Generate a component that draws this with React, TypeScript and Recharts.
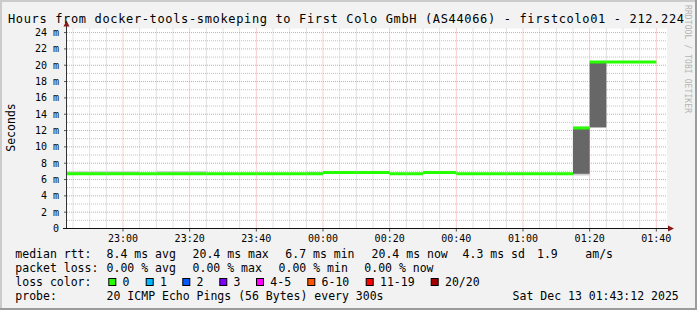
import React from 'react';
import { ComposedChart, Line, Area, XAxis, YAxis, CartesianGrid } from 'recharts';

// x values: minutes since 22:00 (start of each 5-minute step; last entry is the end)
const times = [43.2, 45, 50, 55, 60, 65, 70, 75, 80, 85, 90, 95, 100, 105, 110, 115, 120, 125, 130, 135, 140, 145, 150, 155, 160, 165, 170, 175, 180, 185, 190, 195, 200, 205, 210, 215, 220];
// median rtt (ms)
const median = [6.7, 6.7, 6.7, 6.7, 6.7, 6.7, 6.7, 6.7, 6.7, 6.7, 6.7, 6.7, 6.7, 6.7, 6.7, 6.7, 6.85, 6.85, 6.85, 6.85, 6.7, 6.7, 6.85, 6.85, 6.7, 6.7, 6.7, 6.7, 6.7, 6.7, 6.7, 12.3, 20.4, 20.4, 20.4, 20.4, 20.4];
// outer (light) smoke range
const outerLow = [6.6, 6.6, 6.6, 6.6, 6.6, 6.6, 6.6, 6.6, 6.6, 6.6, 6.6, 6.6, 6.6, 6.6, 6.6, 6.6, 6.7, 6.7, 6.7, 6.7, 6.6, 6.6, 6.7, 6.7, 6.6, 6.6, 6.6, 6.6, 6.6, 6.6, 6.6, 6.5, 12.3, 20.3, 20.3, 20.3, 20.3];
const outerHigh = [7.0, 7.0, 7.0, 7.0, 7.0, 6.8, 7.05, 7.05, 7.05, 6.8, 6.8, 6.8, 6.8, 6.8, 6.8, 6.95, 6.95, 6.95, 6.95, 6.95, 6.8, 6.8, 6.95, 6.95, 6.8, 6.8, 6.8, 6.8, 6.8, 6.8, 6.8, 12.5, 20.5, 20.45, 20.45, 20.45, 20.45];
// inner (dark) smoke range
const innerLow = [6.7, 6.7, 6.7, 6.7, 6.7, 6.7, 6.7, 6.7, 6.7, 6.7, 6.7, 6.7, 6.7, 6.7, 6.7, 6.7, 6.85, 6.85, 6.85, 6.85, 6.7, 6.7, 6.85, 6.85, 6.7, 6.7, 6.7, 6.7, 6.7, 6.7, 6.7, 6.7, 12.4, 20.4, 20.4, 20.4, 20.4];
const innerHigh = [6.7, 6.7, 6.7, 6.7, 6.7, 6.7, 6.7, 6.7, 6.7, 6.7, 6.7, 6.7, 6.7, 6.7, 6.7, 6.7, 6.85, 6.85, 6.85, 6.85, 6.7, 6.7, 6.85, 6.85, 6.7, 6.7, 6.7, 6.7, 6.7, 6.7, 6.7, 12.3, 20.3, 20.4, 20.4, 20.4, 20.4];

const xDomain = [43.2, 223.2];
const xTickValues = [60, 80, 100, 120, 140, 160, 180, 200, 220];
const xTickLabels = ['23:00', '23:20', '23:40', '00:00', '00:20', '00:40', '01:00', '01:20', '01:40'];
const xMinorGrid = [45, 50, 55, 65, 70, 75, 85, 90, 95, 105, 110, 115, 125, 130, 135, 145, 150, 155, 165, 170, 175, 185, 190, 195, 205, 210, 215];
const yDomain = [0, 24.5];
const yTickValues = [0, 2, 4, 6, 8, 10, 12, 14, 16, 18, 20, 22, 24];
const yTickLabels = ['0', '2 m', '4 m', '6 m', '8 m', '10 m', '12 m', '14 m', '16 m', '18 m', '20 m', '22 m', '24 m'];
const yMinorGrid = [1, 3, 5, 7, 9, 11, 13, 15, 17, 19, 21, 23];
const yMajorGrid = [2, 4, 6, 8, 10, 12, 14, 16, 18, 20, 22, 24];

const title = 'Hours from docker-tools-smokeping to First Colo GmbH (AS44066) - firstcolo01 - 212.224';
const rttRow = [['median rtt:', 16], ['8.4 ms avg', 107.3], ['20.4 ms max', 193.3], ['6.7 ms min', 286], ['20.4 ms now', 372.3], ['4.3 ms sd', 463.3], ['1.9', 537.7], ['am/s', 586]];
const lossRow = [['packet loss:', 16], ['0.00 % avg', 107.3], ['0.00 % max', 193.3], ['0.00 % min', 279.3], ['0.00 % now', 365]];
const lossLabels = ['0', '1', '2', '3', '4-5', '6-10', '11-19', '20/20'];
const lossColors = ['#26ff00', '#00b8ff', '#0059ff', '#7e00ff', '#ff00ff', '#ff5500', '#ff0000', '#a10000'];
const lossBoxX = [108.3, 145.7, 182.3, 219.3, 256, 307.3, 365.7, 430.7];
const probeRow = [['probe:', 16], ['20 ICMP Echo Pings (56 Bytes) every 300s', 107.3], ['Sat Dec 13 01:43:12 2025', 513.3]];

const MONO = '"DejaVu Sans Mono", monospace';
const W = 697;
const H = 310;

export default function App() {
  const table = times.map((t, i) => ({
    t,
    outer: [outerLow[i], outerHigh[i]],
    inner: [innerLow[i], innerHigh[i]],
  }));
  const segments = median.slice(0, -1).map((m, i) => [
    { t: times[i], v: m },
    { t: times[i + 1], v: m },
  ]);
  const xFmt = (v: number) => {
    const i = xTickValues.indexOf(v);
    return i >= 0 ? xTickLabels[i] : '';
  };
  const yFmt = (v: number) => {
    const i = yTickValues.indexOf(v);
    return i >= 0 ? yTickLabels[i] : '';
  };
  const legendFont = { fontFamily: MONO, fontSize: 11.5, fill: '#000' } as const;

  return (
    <div style={{ position: 'absolute', left: 0, top: 0, width: W, height: H, background: '#f2f2f2', overflow: 'hidden' }}>
      <div style={{ position: 'absolute', left: 0, top: 0 }}>
        <ComposedChart
          width={W}
          height={H}
          data={table}
          margin={{ top: 28.5, right: 30, bottom: 61.5, left: 0 }}
        >
          <CartesianGrid
            horizontalValues={yMinorGrid}
            verticalValues={xMinorGrid}
            stroke="#c4c4c4"
            strokeDasharray="1 1"
            fill="#ffffff"
            fillOpacity={1}
          />
          <CartesianGrid
            horizontalValues={yMajorGrid}
            verticalValues={xTickValues}
            stroke="#f29a9a"
            strokeDasharray="1 1"
          />
          <XAxis
            type="number"
            dataKey="t"
            domain={xDomain}
            allowDataOverflow
            ticks={xTickValues}
            tickFormatter={xFmt}
            axisLine={false}
            tickLine={{ stroke: '#555' }}
            tickSize={3}
            tickMargin={3}
            height={20}
            interval={0}
            tick={{ fill: '#000', fontSize: 10, fontFamily: MONO }}
          />
          <YAxis
            type="number"
            domain={yDomain}
            allowDataOverflow
            ticks={yTickValues}
            tickFormatter={yFmt}
            axisLine={false}
            tickLine={{ stroke: '#555' }}
            tickSize={3}
            tickMargin={5}
            width={67}
            interval={0}
            tick={{ fill: '#000', fontSize: 10, fontFamily: MONO }}
          />
          <Area
            type="stepAfter"
            dataKey="outer"
            stroke="none"
            fill="#cfcfcf"
            fillOpacity={1}
            isAnimationActive={false}
            dot={false}
            activeDot={false}
            legendType="none"
          />
          <Area
            type="stepAfter"
            dataKey="inner"
            stroke="none"
            fill="#676767"
            fillOpacity={1}
            isAnimationActive={false}
            dot={false}
            activeDot={false}
            legendType="none"
          />
          {segments.map((seg, i) => (
            <Line
              key={i}
              data={seg}
              dataKey="v"
              type="linear"
              stroke="#26ff00"
              strokeWidth={3}
              strokeLinecap="butt"
              dot={false}
              activeDot={false}
              isAnimationActive={false}
              legendType="none"
            />
          ))}
        </ComposedChart>
      </div>
      <svg
        width={W}
        height={H}
        style={{ position: 'absolute', left: 0, top: 0, pointerEvents: 'none' }}
      >
        {/* frame */}
        <rect x={0} y={0} width={W} height={2} fill="#cbcbcb" />
        <rect x={0} y={0} width={2} height={H} fill="#cbcbcb" />
        <rect x={W - 2} y={0} width={2} height={H} fill="#9c9c9c" />
        <rect x={0} y={H - 2} width={W} height={2} fill="#9c9c9c" />
        {/* axes */}
        <line x1={66.5} y1={228.5} x2={66.5} y2={24} stroke="#333" strokeWidth={1} />
        <polygon points="63.5,26.5 69.5,26.5 66.5,20.5" fill="#8b1a1a" />
        <line x1={63} y1={228.5} x2={669} y2={228.5} stroke="#111" strokeWidth={1} />
        <polygon points="668,225.5 668,231.5 674,228.5" fill="#8b1a1a" />
        {/* title */}
        <text x={8} y={23.3} fontFamily={MONO} fontSize={12} fill="#000" textLength={676} lengthAdjust="spacing">
          {title}
        </text>
        {/* y label */}
        <text transform="translate(15,127.5) rotate(-90)" textAnchor="middle" fontFamily={MONO} fontSize={11.5} fill="#000">
          Seconds
        </text>
        {/* watermark */}
        <text transform="translate(684.5,5) rotate(90)" fontFamily={MONO} fontSize={8} fill="#b4b4b4" textLength={108} lengthAdjust="spacing">
          RRDTOOL / TOBI OETIKER
        </text>
        {/* legend */}
        {rttRow.map(([s, x], i) => (
          <text key={'r' + i} x={(x as number) - 0.7} y={258.3} {...legendFont}>{s}</text>
        ))}
        {lossRow.map(([s, x], i) => (
          <text key={'l' + i} x={(x as number) - 0.7} y={272.2} {...legendFont}>{s}</text>
        ))}
        <text x={15.3} y={286.1} {...legendFont}>loss color:</text>
        {lossLabels.map((s, i) => (
          <g key={'c' + i}>
            <rect x={lossBoxX[i] + 0.5} y={278.5} width={7} height={7} fill={lossColors[i]} stroke="#000" strokeWidth={1} />
            <text x={lossBoxX[i] + 14.3} y={286.1} {...legendFont}>{s}</text>
          </g>
        ))}
        {probeRow.map(([s, x], i) => (
          <text key={'p' + i} x={(x as number) - 0.7} y={300} {...legendFont}>{s}</text>
        ))}
      </svg>
    </div>
  );
}
